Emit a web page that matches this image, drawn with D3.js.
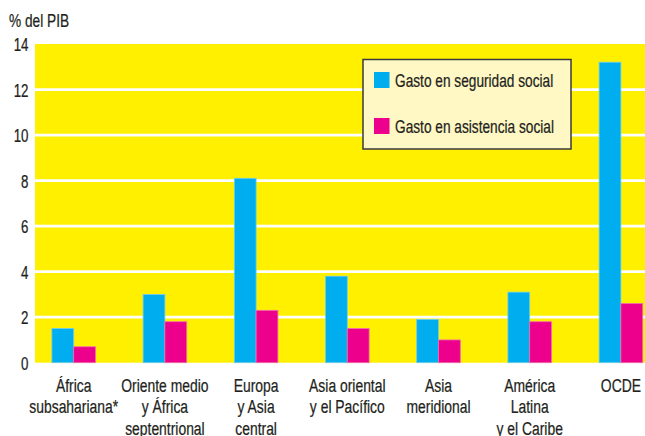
<!DOCTYPE html>
<html>
<head>
<meta charset="utf-8">
<script src="https://cdn.jsdelivr.net/npm/d3@7"></script>
<style>
  html, body { margin: 0; padding: 0; background: #ffffff; }
  svg { display: block; }
  text { font-family: "Liberation Sans", Arial, sans-serif; fill: #231f20; stroke: #231f20; stroke-width: 0.25px; }
</style>
</head>
<body>
<svg id="chart" width="645" height="436"></svg>
<script>
// Regions (multi-line labels) and spending as % of GDP
const regions = [
  ["África", "subsahariana*"],
  ["Oriente medio", "y África", "septentrional"],
  ["Europa", "y Asia", "central"],
  ["Asia oriental", "y el Pacífico"],
  ["Asia", "meridional"],
  ["América", "Latina", "y el Caribe"],
  ["OCDE"]
];
const seguridadSocial = [1.5, 3.0, 8.1, 3.8, 1.9, 3.1, 13.2];
const asistenciaSocial = [0.7, 1.8, 2.3, 1.5, 1.0, 1.8, 2.6];
const yTicks = [0, 2, 4, 6, 8, 10, 12, 14];
const seriesNames = ["Gasto en seguridad social", "Gasto en asistencia social"];
const seriesColors = ["#00aeef", "#ec008c"];
const yTitle = "% del PIB";

// condensed look: narrow the sans glyphs horizontally
const narrow = "scale(0.74,1)";

const svg = d3.select("#chart");
const plot = { left: 35, right: 645, top: 44, bottom: 362.7 };

const y = d3.scaleLinear().domain([0, 14]).range([plot.bottom, plot.top]);
const x = d3.scaleBand()
  .domain(d3.range(regions.length))
  .range([28.1, 28.1 + 91.2 * regions.length])
  .padding(0);
const barW = 21.8;

// plot background
svg.append("rect")
  .attr("x", plot.left).attr("y", plot.top)
  .attr("width", plot.right - plot.left).attr("height", plot.bottom - plot.top)
  .attr("fill", "#fff000");

// white gridlines
svg.append("g").selectAll("line")
  .data(yTicks.filter(t => t > 0 && t < 14))
  .join("line")
  .attr("x1", plot.left).attr("x2", plot.right)
  .attr("y1", d => y(d)).attr("y2", d => y(d))
  .attr("stroke", "#ffffff").attr("stroke-width", 2.7);

// y axis tick labels
const yAxis = d3.axisLeft(y).tickValues(yTicks).tickSize(0).tickPadding(0);
const yg = svg.append("g").attr("transform", "translate(28.5,0)").call(yAxis);
yg.select(".domain").remove();
yg.selectAll("text")
  .attr("font-size", 18)
  .attr("dy", "0.36em")
  .attr("transform", narrow)
  .style("font-family", "'Liberation Sans', Arial, sans-serif")
  .attr("fill", "#231f20");

svg.append("g")
  .attr("transform", "translate(9,27)")
  .append("text")
  .attr("font-size", 18.5)
  .attr("transform", narrow)
  .text(yTitle);

// bars
const groups = svg.append("g").selectAll("g")
  .data(regions.map((r, i) => i))
  .join("g")
  .attr("transform", i => `translate(${x(i) + x.bandwidth() / 2},0)`);

groups.append("rect")
  .attr("x", -barW).attr("width", barW)
  .attr("y", i => y(seguridadSocial[i]))
  .attr("height", i => y(0) - y(seguridadSocial[i]))
  .attr("fill", seriesColors[0])
  .attr("stroke", "#6fcdf2").attr("stroke-width", 0.8);

groups.append("rect")
  .attr("x", 0).attr("width", barW)
  .attr("y", i => y(asistenciaSocial[i]))
  .attr("height", i => y(0) - y(asistenciaSocial[i]))
  .attr("fill", seriesColors[1])
  .attr("stroke", "#f06bb2").attr("stroke-width", 0.8);

// category labels
groups.append("text")
  .attr("text-anchor", "middle")
  .attr("font-size", 18.8)
  .attr("transform", narrow)
  .selectAll("tspan")
  .data(i => regions[i])
  .join("tspan")
  .attr("x", 0)
  .attr("y", (d, k) => 391.8 + k * 21.6)
  .text(d => d);

// legend
const lg = svg.append("g");
lg.append("rect")
  .attr("x", 363).attr("y", 59.5)
  .attr("width", 208).attr("height", 89.5)
  .attr("fill", "#fff8c5")
  .attr("stroke", "#3a3a3a").attr("stroke-width", 1.5);

const items = lg.selectAll("g.item")
  .data(seriesNames)
  .join("g")
  .attr("class", "item")
  .attr("transform", (d, i) => `translate(374,${72 + i * 46})`);
items.append("rect")
  .attr("width", 15.5).attr("height", 16)
  .attr("fill", (d, i) => seriesColors[i]);
items.append("g")
  .attr("transform", "translate(21,14.9)")
  .append("text")
  .attr("font-size", 18.5)
  .attr("transform", narrow)
  .text(d => d);
</script>
</body>
</html>
